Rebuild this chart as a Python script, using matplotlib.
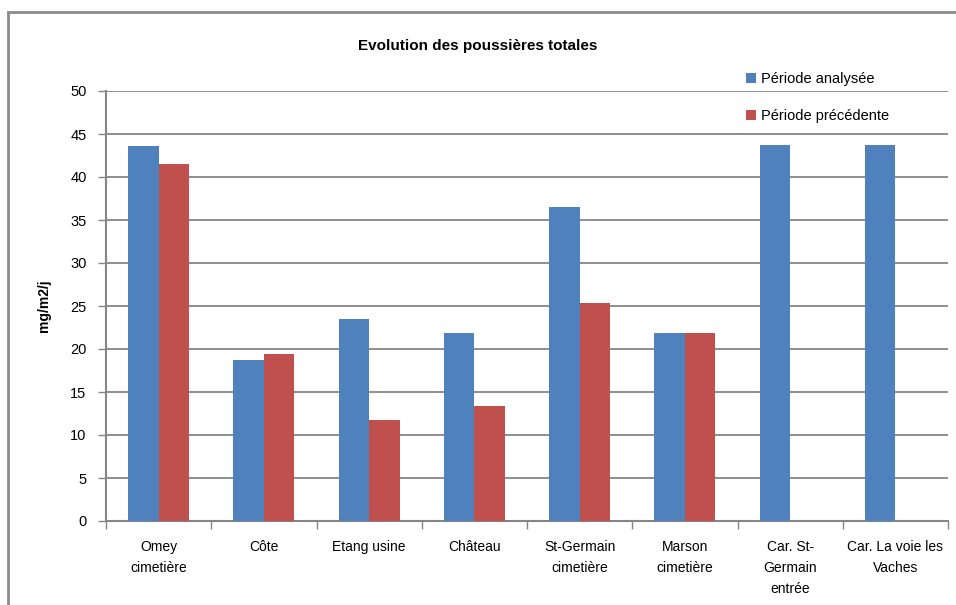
import matplotlib
matplotlib.use('Agg')
import matplotlib.pyplot as plt
import numpy as np
from matplotlib.patches import Rectangle

categories = ['Omey\ncimetière', 'Côte', 'Etang usine', 'Château', 'St-Germain\ncimetière',
              'Marson\ncimetière', 'Car. St-\nGermain\nentrée', 'Car. La voie les\nVaches']
periode_analysee = [43.6, 18.7, 23.5, 21.9, 36.5, 21.9, 43.7, 43.7]
periode_precedente = [41.5, 19.4, 11.7, 13.4, 25.3, 21.9, np.nan, np.nan]
yticks = [0, 5, 10, 15, 20, 25, 30, 35, 40, 45, 50]

plt.rcParams['font.family'] = ['Liberation Sans', 'DejaVu Sans']
grey = '#868686'

fig = plt.figure(figsize=(9.56, 6.05), dpi=100)
fig.patches.append(Rectangle((8 / 956, -0.01), 1.0, 1 - 12 / 605 + 0.01, transform=fig.transFigure,
                             fill=False, edgecolor='#8c8c8c', linewidth=2))
ax = fig.add_axes([106 / 956, 1 - 521 / 605, 842 / 956, 430 / 605])

x = np.arange(len(categories))
w = 0.29
ax.bar(x - w / 2, periode_analysee, w, color='#4f81bd', label='Période analysée', zorder=3)
ax.bar(x + w / 2, periode_precedente, w, color='#c0504d', label='Période précédente', zorder=3)

ax.set_xlim(-0.5, len(categories) - 0.5)
ax.set_ylim(0, 50)
ax.set_yticks(yticks)
ax.yaxis.grid(True, color=grey, linewidth=1.3, zorder=0)
ax.set_xticks(x)
ax.set_xticklabels(categories, fontsize=10, linespacing=1.6)
ax.set_xticks(np.arange(-0.5, len(categories)), minor=True)
ax.tick_params(axis='x', which='major', length=0, pad=14)
ax.tick_params(axis='x', which='minor', length=6, color=grey, width=1)
ax.tick_params(axis='y', length=6, color=grey, width=1, labelsize=10.5, pad=8)
for s in ['top', 'right']:
    ax.spines[s].set_visible(False)
ax.spines['left'].set_color(grey)
ax.spines['left'].set_linewidth(1.5)
ax.spines['bottom'].set_color(grey)
ax.spines['bottom'].set_linewidth(1.5)

ax.set_ylabel('mg/m2/j', fontsize=10, fontweight='bold', labelpad=14)
fig.text(0.5, 1 - 46 / 605, 'Evolution des poussières totales', ha='center', va='center',
         fontsize=11, fontweight='bold')
fig.legend(loc='upper left', bbox_to_anchor=(733 / 956, 1 - 59 / 605), frameon=False,
           fontsize=10.5, labelspacing=1.55, handlelength=0.7, handleheight=0.7, handletextpad=0.3)

fig.savefig('out.png', dpi=100)
